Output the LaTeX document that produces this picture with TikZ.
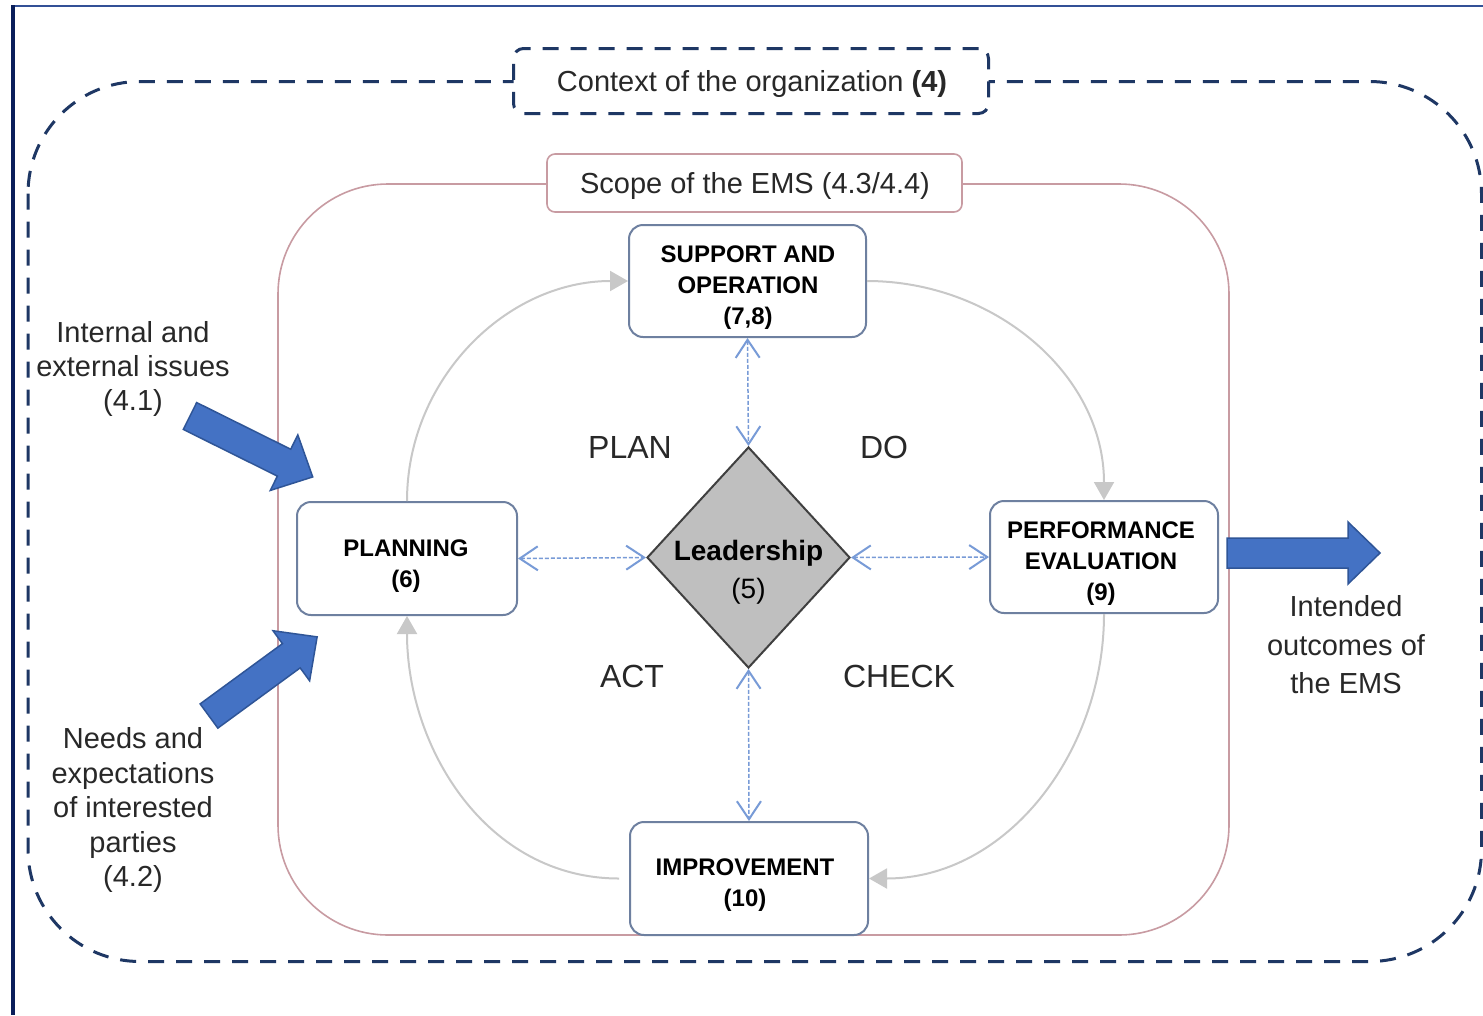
\documentclass[tikz,border=0pt]{standalone}
\usepackage{fontspec}
\setmainfont{Liberation Sans}
\usetikzlibrary{arrows.meta,shapes.geometric}

\definecolor{ctxnavy}{RGB}{30,55,100}
\definecolor{leftframe}{RGB}{10,30,90}
\definecolor{topframe}{RGB}{50,80,150}
\definecolor{scopecol}{RGB}{200,155,162}
\definecolor{boxline}{RGB}{110,128,160}
\definecolor{linkblue}{RGB}{120,155,215}
\definecolor{cycgray}{RGB}{200,200,200}
\definecolor{bigfill}{RGB}{68,114,196}
\definecolor{bigdraw}{RGB}{47,85,151}
\definecolor{leadfill}{RGB}{191,191,191}
\definecolor{leaddraw}{RGB}{64,64,64}
\definecolor{txtgray}{RGB}{40,40,40}

% fat block arrow: tail centre, direction (deg), length
\newcommand{\fatarrow}[3]{%
  \begin{scope}[shift={#1}, rotate=#2]
    \draw[bigarrow] (0,-15) -- ({#3-32},-15) -- ({#3-32},-31) -- (#3,0)
      -- ({#3-32},31) -- ({#3-32},15) -- (0,15) -- cycle;
  \end{scope}}

\begin{document}
\begin{tikzpicture}[x=1pt,y=-1pt,
  ctxdash/.style={draw=ctxnavy, line width=3pt, dash pattern=on 16pt off 12pt},
  scopeline/.style={draw=scopecol, line width=1.6pt},
  ctxbox/.style={ctxdash, fill=white, rounded corners=10pt, minimum width=475pt,
    minimum height=65pt, inner sep=0pt},
  scopebox/.style={scopeline, fill=white, rounded corners=8pt, minimum width=415pt,
    minimum height=58pt, inner sep=0pt},
  labeltext/.style={text=txtgray, inner sep=0pt, font=\fontsize{29}{34}\selectfont},
  procbox/.style={draw=boxline, line width=2pt, fill=white, rounded corners=14pt,
    inner sep=0pt},
  proctext/.style={align=center, inner sep=0pt, font=\fontsize{24}{31}\selectfont\bfseries},
  link/.style={draw=linkblue, line width=1.5pt, dash pattern=on 4pt off 2pt,
    {Straight Barb[length=18pt,width=24pt,line width=2pt]}-{Straight Barb[length=18pt,width=24pt,line width=2pt]}},
  cyc/.style={draw=cycgray, line width=2pt, -{Triangle[length=18pt,width=20pt]}},
  pdca/.style={text=txtgray, font=\fontsize{32}{36}\selectfont},
  sidetext/.style={text=txtgray, align=center, font=\fontsize{29}{34}\selectfont},
  bigarrow/.style={fill=bigfill, draw=bigdraw, line width=1.5pt, line join=miter}
]
\useasboundingbox (0,0) rectangle (1483,1015);
\fill[white] (0,0) rectangle (1483,1015);

% page frame
\draw[topframe, line width=2pt] (12,6) -- (1483,6);
\draw[leftframe, line width=4pt] (13,5) -- (13,1015);

% boundary of the organization and of the EMS scope
\draw[ctxdash, rounded corners=112pt] (28,81.5) rectangle (1481.5,961.5);
\draw[scopeline, rounded corners=110pt] (278,184) rectangle (1229,935);

\node[ctxbox] (ctx) at (751,81) {};
\node[labeltext] (ctxtxt) at (752,84) {Context of the organization \textbf{(4)}};
\node[scopebox] (scope) at (754.5,183) {};
\node[labeltext] (scopetxt) at (755,186) {Scope of the EMS (4.3/4.4)};

% process boxes
\node[procbox, minimum width=237pt, minimum height=112pt] (supp) at (747.5,281) {};
\node[proctext] (supptxt) at (748,288) {SUPPORT AND\\OPERATION\\(7,8)};
\node[procbox, minimum width=220pt, minimum height=113pt] (plan) at (407,558.5) {};
\node[proctext] (plantxt) at (406,566) {PLANNING\\(6)};
\node[procbox, minimum width=228pt, minimum height=112pt] (perf) at (1104,557) {};
\node[proctext] (perftxt) at (1101,564) {PERFORMANCE\\EVALUATION\\(9)};
\node[procbox, minimum width=238pt, minimum height=113pt] (impr) at (749,878.5) {};
\node[proctext] (imprtxt) at (745,885) {IMPROVEMENT\\(10)};

% leadership at the centre
\node[diamond, draw=leaddraw, fill=leadfill, line width=2pt, inner sep=0pt,
  minimum width=203pt, minimum height=221pt] (lead) at (748.5,557.5) {};
\node[align=center, font=\fontsize{28}{38}\selectfont] (leadtxt) at (748.5,572)
  {\textbf{Leadership}\\(5)};

% links between leadership and the processes
\draw[link] (plan.east) -- (lead.west);
\draw[link] (lead.east) -- (perf.west);
\draw[link] (supp.south) -- (lead.north);
\draw[link] (lead.south) -- (impr.north);

% PDCA cycle
\draw[cyc] (plan.north) to[out=90,in=180] (supp.west);
\draw[cyc] (supp.east) to[out=0,in=90] (perf.north);
\draw[cyc] (perf.south) to[out=-90,in=0] (impr.east);
\draw[cyc] ([xshift=-10pt]impr.west) to[out=180,in=-90] (plan.south);

\node[pdca] (lplan) at (630,447) {PLAN};
\node[pdca] (ldo) at (884,447) {DO};
\node[pdca] (lact) at (632,676) {ACT};
\node[pdca] (lcheck) at (899,676) {CHECK};

% inputs and outputs
\node[sidetext] (issues) at (133,369) {Internal and\\external issues\\(4.1)};
\node[sidetext, font=\fontsize{29}{34.5}\selectfont] (needs) at (133,810)
  {Needs and\\expectations\\of interested\\parties\\(4.2)};
\node[sidetext, font=\fontsize{29}{38.5}\selectfont] (outcomes) at (1346,645)
  {Intended\\outcomes of\\the EMS};

\fatarrow{(190,416)}{-26.4}{137}
\fatarrow{(209,716)}{36.2}{134}
\fatarrow{(1227,553)}{0}{153}
\end{tikzpicture}
\end{document}
